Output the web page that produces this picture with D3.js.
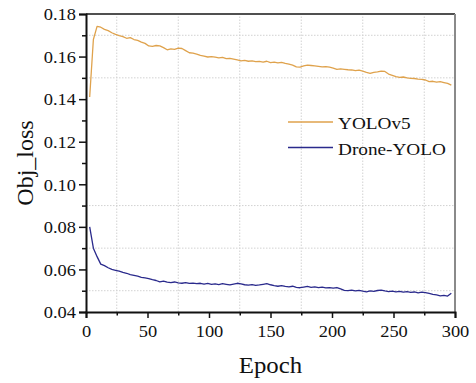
<!DOCTYPE html>
<html>
<head>
<meta charset="utf-8">
<script src="https://cdn.jsdelivr.net/npm/d3@7"></script>
</head>
<body style="margin:0">
<div id="chart"></div>
<script>
var width = 476;
var height = 383;
var margin = { left: 86, top: 14, right: 21, bottom: 71 };
var FONT = "'Liberation Serif', 'Times New Roman', Tinos";

// epochs sampled every 3 epochs
var epochs = d3.range(3, 298, 3);
var yolov5 = [
  0.1410, 0.1680, 0.1742, 0.1738, 0.1728, 0.1722, 0.1712, 0.1704, 0.1698, 0.1694,
  0.1686, 0.1689, 0.1680, 0.1676, 0.1668, 0.1662, 0.1650, 0.1648, 0.1652, 0.1650,
  0.1642, 0.1632, 0.1636, 0.1634, 0.1640, 0.1638, 0.1628, 0.1618, 0.1616, 0.1612,
  0.1606, 0.1602, 0.1598, 0.1600, 0.1597, 0.1594, 0.1596, 0.1590, 0.1592, 0.1588,
  0.1584, 0.1580, 0.1582, 0.1578, 0.1580, 0.1576, 0.1577, 0.1574, 0.1578, 0.1572,
  0.1574, 0.1570, 0.1573, 0.1568, 0.1564, 0.1560, 0.1552, 0.1550, 0.1556, 0.1560,
  0.1558, 0.1556, 0.1554, 0.1552, 0.1553, 0.1550, 0.1546, 0.1540, 0.1542, 0.1540,
  0.1538, 0.1537, 0.1534, 0.1536, 0.1532, 0.1526, 0.1521, 0.1526, 0.1528, 0.1532,
  0.1530, 0.1518, 0.1512, 0.1506, 0.1502, 0.1504, 0.1500, 0.1498, 0.1497, 0.1494,
  0.1493, 0.1490, 0.1482, 0.1484, 0.1480, 0.1482, 0.1478, 0.1474, 0.1466
];
var droneYolo = [
  0.0800, 0.0700, 0.0660, 0.0625, 0.0618, 0.0608, 0.0600, 0.0596, 0.0592, 0.0586,
  0.0582, 0.0576, 0.0572, 0.0568, 0.0563, 0.0560, 0.0557, 0.0552, 0.0548, 0.0542,
  0.0545, 0.0540, 0.0538, 0.0541, 0.0537, 0.0535, 0.0538, 0.0534, 0.0536, 0.0533,
  0.0535, 0.0531, 0.0534, 0.0530, 0.0532, 0.0529, 0.0533, 0.0530, 0.0527, 0.0531,
  0.0535, 0.0532, 0.0528, 0.0526, 0.0529, 0.0525, 0.0527, 0.0530, 0.0533, 0.0528,
  0.0524, 0.0521, 0.0524, 0.0520, 0.0518, 0.0521, 0.0516, 0.0514, 0.0517, 0.0520,
  0.0516, 0.0518, 0.0515, 0.0517, 0.0513, 0.0515, 0.0512, 0.0515, 0.0509, 0.0502,
  0.0500, 0.0503, 0.0499, 0.0502, 0.0498, 0.0495, 0.0499, 0.0497, 0.0501, 0.0503,
  0.0499, 0.0496, 0.0498, 0.0495, 0.0497, 0.0493, 0.0496, 0.0492, 0.0494, 0.0490,
  0.0493, 0.0491, 0.0487, 0.0483, 0.0480, 0.0476, 0.0478, 0.0475, 0.0488
];
var seriesNames = ["YOLOv5", "Drone-YOLO"];
var seriesColors = ["#DFA24C", "#2A2A8C"];

var xTicks = [0, 50, 100, 150, 200, 250, 300];
var xMinor = [25, 75, 125, 175, 225, 275];
var yTicks = [0.04, 0.06, 0.08, 0.10, 0.12, 0.14, 0.16, 0.18];
var yMinor = [0.05, 0.07, 0.09, 0.11, 0.13, 0.15, 0.17];
var yGrid = [0.05, 0.07, 0.09, 0.15, 0.17];

var svg = d3.select("#chart")
            .append("svg")
            .attr("width", width)
            .attr("height", height)
            .attr("font-family", FONT)
            .style("font-family", FONT);

var xScale = d3.scaleLinear()
               .domain([0, 300])
               .range([margin.left, width - margin.right]);
var yScale = d3.scaleLinear()
               .domain([0.04, 0.18])
               .range([height - margin.bottom, margin.top]);

// grid (dotted, at minor positions)
svg.append("g")
   .selectAll("line")
   .data(xMinor)
   .enter()
   .append("line")
   .attr("x1", function(d){ return xScale(d); })
   .attr("x2", function(d){ return xScale(d); })
   .attr("y1", yScale(0.04))
   .attr("y2", yScale(0.18))
   .attr("stroke", "#d2d2d2")
   .attr("stroke-width", 1)
   .attr("stroke-dasharray", "1.5,1.5");
svg.append("g")
   .selectAll("line")
   .data(yGrid)
   .enter()
   .append("line")
   .attr("x1", xScale(0))
   .attr("x2", xScale(300))
   .attr("y1", function(d){ return yScale(d); })
   .attr("y2", function(d){ return yScale(d); })
   .attr("stroke", "#d2d2d2")
   .attr("stroke-width", 1)
   .attr("stroke-dasharray", "1.5,1.5");

// lines
var line = d3.line()
             .x(function(d){ return xScale(d.epoch); })
             .y(function(d){ return yScale(d.value); });

[yolov5, droneYolo].forEach(function(vals, k){
  var pts = epochs.map(function(e, i){ return { epoch: e, value: vals[i] }; });
  svg.append("path")
     .datum(pts)
     .attr("fill", "none")
     .attr("stroke", seriesColors[k])
     .attr("stroke-width", 1.3)
     .attr("stroke-linejoin", "round")
     .attr("d", line);
});

// frame: top and right
svg.append("line")
   .attr("x1", xScale(0)).attr("x2", xScale(300))
   .attr("y1", yScale(0.18)).attr("y2", yScale(0.18))
   .attr("stroke", "#505050").attr("stroke-width", 2);
svg.append("line")
   .attr("x1", xScale(300)).attr("x2", xScale(300))
   .attr("y1", yScale(0.18)).attr("y2", yScale(0.04))
   .attr("stroke", "#8a8a8a").attr("stroke-width", 2);

// axes
var xAxis = d3.axisBottom(xScale).tickValues(xTicks).tickSize(6).tickFormat(d3.format("d"));
var xAxisMinor = d3.axisBottom(xScale).tickValues(xMinor).tickSize(3.5).tickFormat("");
var yAxis = d3.axisLeft(yScale).tickValues(yTicks).tickSize(7).tickFormat(d3.format(".2f"));
var yAxisMinor = d3.axisLeft(yScale).tickValues(yMinor).tickSize(4).tickFormat("");

function styleAxis(g){
  g.attr("font-family", FONT).attr("font-size", 16);
  g.select(".domain").attr("stroke", "#111").attr("stroke-width", 2);
  g.selectAll(".tick line").attr("stroke", "#111").attr("stroke-width", 1.5);
}

var gx = svg.append("g")
   .attr("transform", "translate(0," + yScale(0.04) + ")")
   .call(xAxis)
   .call(styleAxis);
gx.selectAll(".tick text")
  .attr("fill", "#111")
  .attr("dy", null)
  .attr("y", 25)
  .attr("transform", "scale(1.15,1)");
svg.append("g")
   .attr("transform", "translate(0," + yScale(0.04) + ")")
   .call(xAxisMinor)
   .call(styleAxis)
   .select(".domain").remove();

var gy = svg.append("g")
   .attr("transform", "translate(" + xScale(0) + ",0)")
   .call(yAxis)
   .call(styleAxis);
gy.selectAll(".tick text")
  .attr("fill", "#111")
  .attr("x", -10 / 1.15)
  .attr("dy", "0.36em")
  .attr("transform", "scale(1.15,1)");
svg.append("g")
   .attr("transform", "translate(" + xScale(0) + ",0)")
   .call(yAxisMinor)
   .call(styleAxis)
   .select(".domain").remove();

// axis titles
svg.append("text")
   .attr("transform", "translate(" + ((xScale(0) + xScale(300)) / 2) + ",373) scale(1.08,1)")
   .attr("text-anchor", "middle")
   .attr("font-size", 23)
   .attr("fill", "#111")
   .text("Epoch");
svg.append("text")
   .attr("transform", "translate(33," + ((yScale(0.04) + yScale(0.18)) / 2) + ") rotate(-90)")
   .attr("text-anchor", "middle")
   .attr("font-size", 24)
   .attr("fill", "#111")
   .text("Obj_loss");

// legend
var legend = svg.append("g").attr("transform", "translate(288,122)");
seriesNames.forEach(function(name, i){
  legend.append("line")
        .attr("x1", 0).attr("x2", 45)
        .attr("y1", i * 25.5).attr("y2", i * 25.5)
        .attr("stroke", seriesColors[i])
        .attr("stroke-width", 1.3);
  legend.append("text")
        .attr("transform", "translate(50," + (i * 25.5 + 7) + ") scale(1.1,1)")
        .attr("font-size", 17.5)
        .attr("fill", "#111")
        .text(name);
});
</script>
</body>
</html>
